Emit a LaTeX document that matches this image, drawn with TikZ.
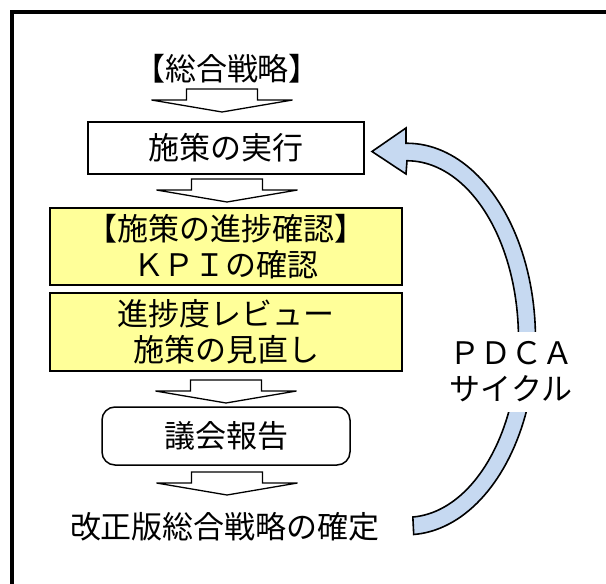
\documentclass[tikz,border=0pt]{standalone}
\usepackage{fontspec}
\newfontfamily\jpfont{Noto Sans CJK JP}
\definecolor{yel}{HTML}{FFFF99}
\definecolor{arcblue}{HTML}{C6D9F1}
\tikzset{
  blockarrow/.pic={
    \draw[line width=1.3pt, fill=white, line join=miter]
      (-35.5,0) -- (35.5,0) -- (35.5,11) -- (70.5,11) -- (0,23)
      -- (-70.5,11) -- (-35.5,11) -- cycle;
  }
}
\begin{document}
\begin{tikzpicture}[x=1pt,y=-1pt,
  txt/.style={font=\jpfont\fontsize{31}{36}\selectfont, inner sep=0pt, align=center},
  plainbox/.style={txt, draw=black, line width=2pt, fill=white, minimum width=276pt, minimum height=52pt},
  yelbox/.style={txt, draw=black, line width=2.4pt, fill=yel, minimum width=352pt, minimum height=77pt},
  roundbox/.style={txt, draw=black, line width=1.5pt, fill=white, rounded corners=13pt, minimum width=248pt, minimum height=58pt},
  cyclearrow/.style={draw=black, line width=1.6pt, fill=arcblue, line join=miter},
  masklabel/.style={txt, fill=white, minimum width=130pt, minimum height=80pt}
]
\useasboundingbox (0,0) rectangle (606,584);
\fill[white] (0,0) rectangle (606,584);

% frame (only top and left sides are visible)
\draw[line width=3.5pt] (12,600) -- (12,12) -- (620,12);

% nodes
\node[txt] (title) at (227,68.5) {【総合戦略】};
\node[plainbox] (exec) at (226,148) {施策の実行};
\node[yelbox] (check) at (226,246.5) {【施策の進捗確認】\\ＫＰＩの確認};
\node[yelbox, minimum height=78pt] (review) at (226,332) {進捗度レビュー\\施策の見直し};
\node[roundbox] (report) at (226,436) {議会報告};
\node[txt] (final) at (225,527) {改正版総合戦略の確定};

% block arrows
\pic at (222,89) {blockarrow};
\pic at (227,179) {blockarrow};
\pic at (226,380) {blockarrow};
\pic at (227,472) {blockarrow};

% PDCA cycle arrow
\draw[cyclearrow]
  (372,151.5) -- (406,128) -- (406,143.25)
  -- plot[domain=-90:87, samples=90] ({407+128.5*cos(\x)},{339+195.75*sin(\x)})
  -- plot[domain=87:-90, samples=90] ({407+111.5*cos(\x)},{339+178.25*sin(\x)})
  -- (406,174) -- cycle;

\node[masklabel] (pdca) at (511,372) {ＰＤＣＡ\\サイクル};
\end{tikzpicture}
\end{document}
